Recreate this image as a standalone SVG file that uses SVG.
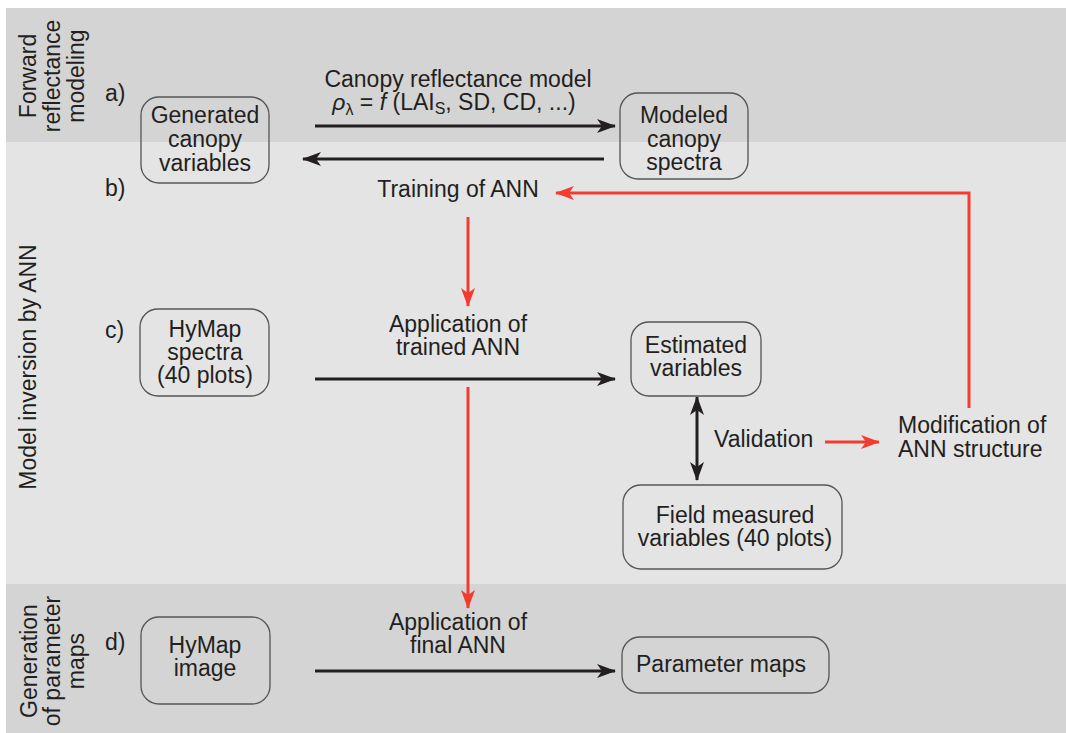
<svg xmlns="http://www.w3.org/2000/svg" width="1066" height="733" viewBox="0 0 1066 733">
<style>
text{font-family:"Liberation Sans",Arial,sans-serif;font-size:23px;fill:#231f20}
.mid{text-anchor:middle}
.box{fill:none;stroke:#555;stroke-width:1.3}
.blk{stroke:#231f20;stroke-width:3;fill:none}
.red{stroke:#f23c30;stroke-width:3;fill:none}
</style>
<defs>
<marker id="ab" markerUnits="userSpaceOnUse" markerWidth="20" markerHeight="16" refX="18" refY="8" orient="auto-start-reverse" viewBox="0 0 20 16">
<path d="M0,1 L19,8 L0,15 L5,8 z" fill="#231f20"/>
</marker>
<marker id="ar" markerUnits="userSpaceOnUse" markerWidth="20" markerHeight="16" refX="18" refY="8" orient="auto" viewBox="0 0 20 16">
<path d="M0,1 L19,8 L0,15 L5,8 z" fill="#f23c30"/>
</marker>
</defs>
<rect x="0" y="0" width="1066" height="733" fill="#fff"/>
<g id="bands">
<rect x="6" y="8" width="1060" height="134" fill="#d4d4d4"/>
<rect x="6" y="142" width="1060" height="442" fill="#e4e4e4"/>
<rect x="6" y="584" width="1060" height="149" fill="#d4d4d4"/>
</g>
<g id="section-labels">
<g transform="translate(0,76) rotate(-90)">
<text class="mid" x="0" y="36">Forward</text>
<text class="mid" x="0" y="60">reflectance</text>
<text class="mid" x="0" y="84">modeling</text>
</g>
<text class="mid" transform="translate(36,367) rotate(-90)">Model inversion by ANN</text>
<g transform="translate(0,661) rotate(-90)">
<text class="mid" x="0" y="37">Generation</text>
<text class="mid" x="0" y="60">of parameter</text>
<text class="mid" x="0" y="84">maps</text>
</g>
<text x="105" y="101">a)</text>
<text x="105" y="196">b)</text>
<text x="105" y="338">c)</text>
<text x="105" y="650">d)</text>
</g>
<g id="connectors">
<line class="blk" x1="315" y1="126" x2="615" y2="126" marker-end="url(#ab)"/>
<line class="blk" x1="604" y1="159" x2="303" y2="159" marker-end="url(#ab)"/>
<polyline class="red" points="969,408 969,193 556,193" marker-end="url(#ar)"/>
<line class="red" x1="468" y1="217" x2="468" y2="306" marker-end="url(#ar)"/>
<line class="blk" x1="315" y1="379" x2="615" y2="379" marker-end="url(#ab)"/>
<line class="red" x1="468" y1="387" x2="468" y2="608" marker-end="url(#ar)"/>
<line class="blk" x1="697" y1="397" x2="697" y2="480" marker-start="url(#ab)" marker-end="url(#ab)"/>
<line class="red" x1="825" y1="442" x2="879" y2="442" marker-end="url(#ar)"/>
<line class="blk" x1="315" y1="671" x2="615" y2="671" marker-end="url(#ab)"/>
</g>
<g id="edge-labels">
<text class="mid" x="458" y="87">Canopy reflectance model</text>
<text class="mid" x="454" y="110"><tspan font-style="italic">ρ</tspan><tspan font-size="16" dy="5">λ</tspan><tspan dy="-5"> = </tspan><tspan font-style="italic">f</tspan><tspan> (LAI</tspan><tspan font-size="16" dy="4">S</tspan><tspan dy="-4">, SD, CD, ...)</tspan></text>
<text class="mid" x="458" y="197">Training of ANN</text>
<text class="mid" x="458" y="332">Application of</text>
<text class="mid" x="458" y="355">trained ANN</text>
<text class="mid" x="458" y="630">Application of</text>
<text class="mid" x="458" y="653">final ANN</text>
<text x="714" y="447">Validation</text>
</g>
<g id="node-generated">
<rect class="box" x="141" y="97" width="128" height="86" rx="18"/>
<text class="mid" x="205" y="123">Generated</text>
<text class="mid" x="205" y="147">canopy</text>
<text class="mid" x="205" y="171">variables</text>
</g>
<g id="node-modeled">
<rect class="box" x="620" y="93" width="128" height="86" rx="18"/>
<text class="mid" x="684" y="123">Modeled</text>
<text class="mid" x="684" y="147">canopy</text>
<text class="mid" x="684" y="170">spectra</text>
</g>
<g id="node-hymap-spectra">
<rect class="box" x="140" y="309" width="129" height="87" rx="18"/>
<text class="mid" x="205" y="337">HyMap</text>
<text class="mid" x="205" y="360">spectra</text>
<text class="mid" x="205" y="383">(40 plots)</text>
</g>
<g id="node-estimated">
<rect class="box" x="631" y="322" width="130" height="74" rx="18"/>
<text class="mid" x="696" y="353">Estimated</text>
<text class="mid" x="696" y="376">variables</text>
</g>
<g id="node-modification">
<text x="898" y="433">Modification of</text>
<text x="898" y="457">ANN structure</text>
</g>
<g id="node-field">
<rect class="box" x="623" y="485" width="219" height="84" rx="18"/>
<text class="mid" x="735" y="523">Field measured</text>
<text class="mid" x="735" y="546">variables (40 plots)</text>
</g>
<g id="node-hymap-image">
<rect class="box" x="141" y="617" width="129" height="87" rx="18"/>
<text class="mid" x="205" y="653">HyMap</text>
<text class="mid" x="205" y="676">image</text>
</g>
<g id="node-parameter-maps">
<rect class="box" x="622" y="637" width="207" height="56" rx="18"/>
<text x="636" y="672">Parameter maps</text>
</g>
</svg>
